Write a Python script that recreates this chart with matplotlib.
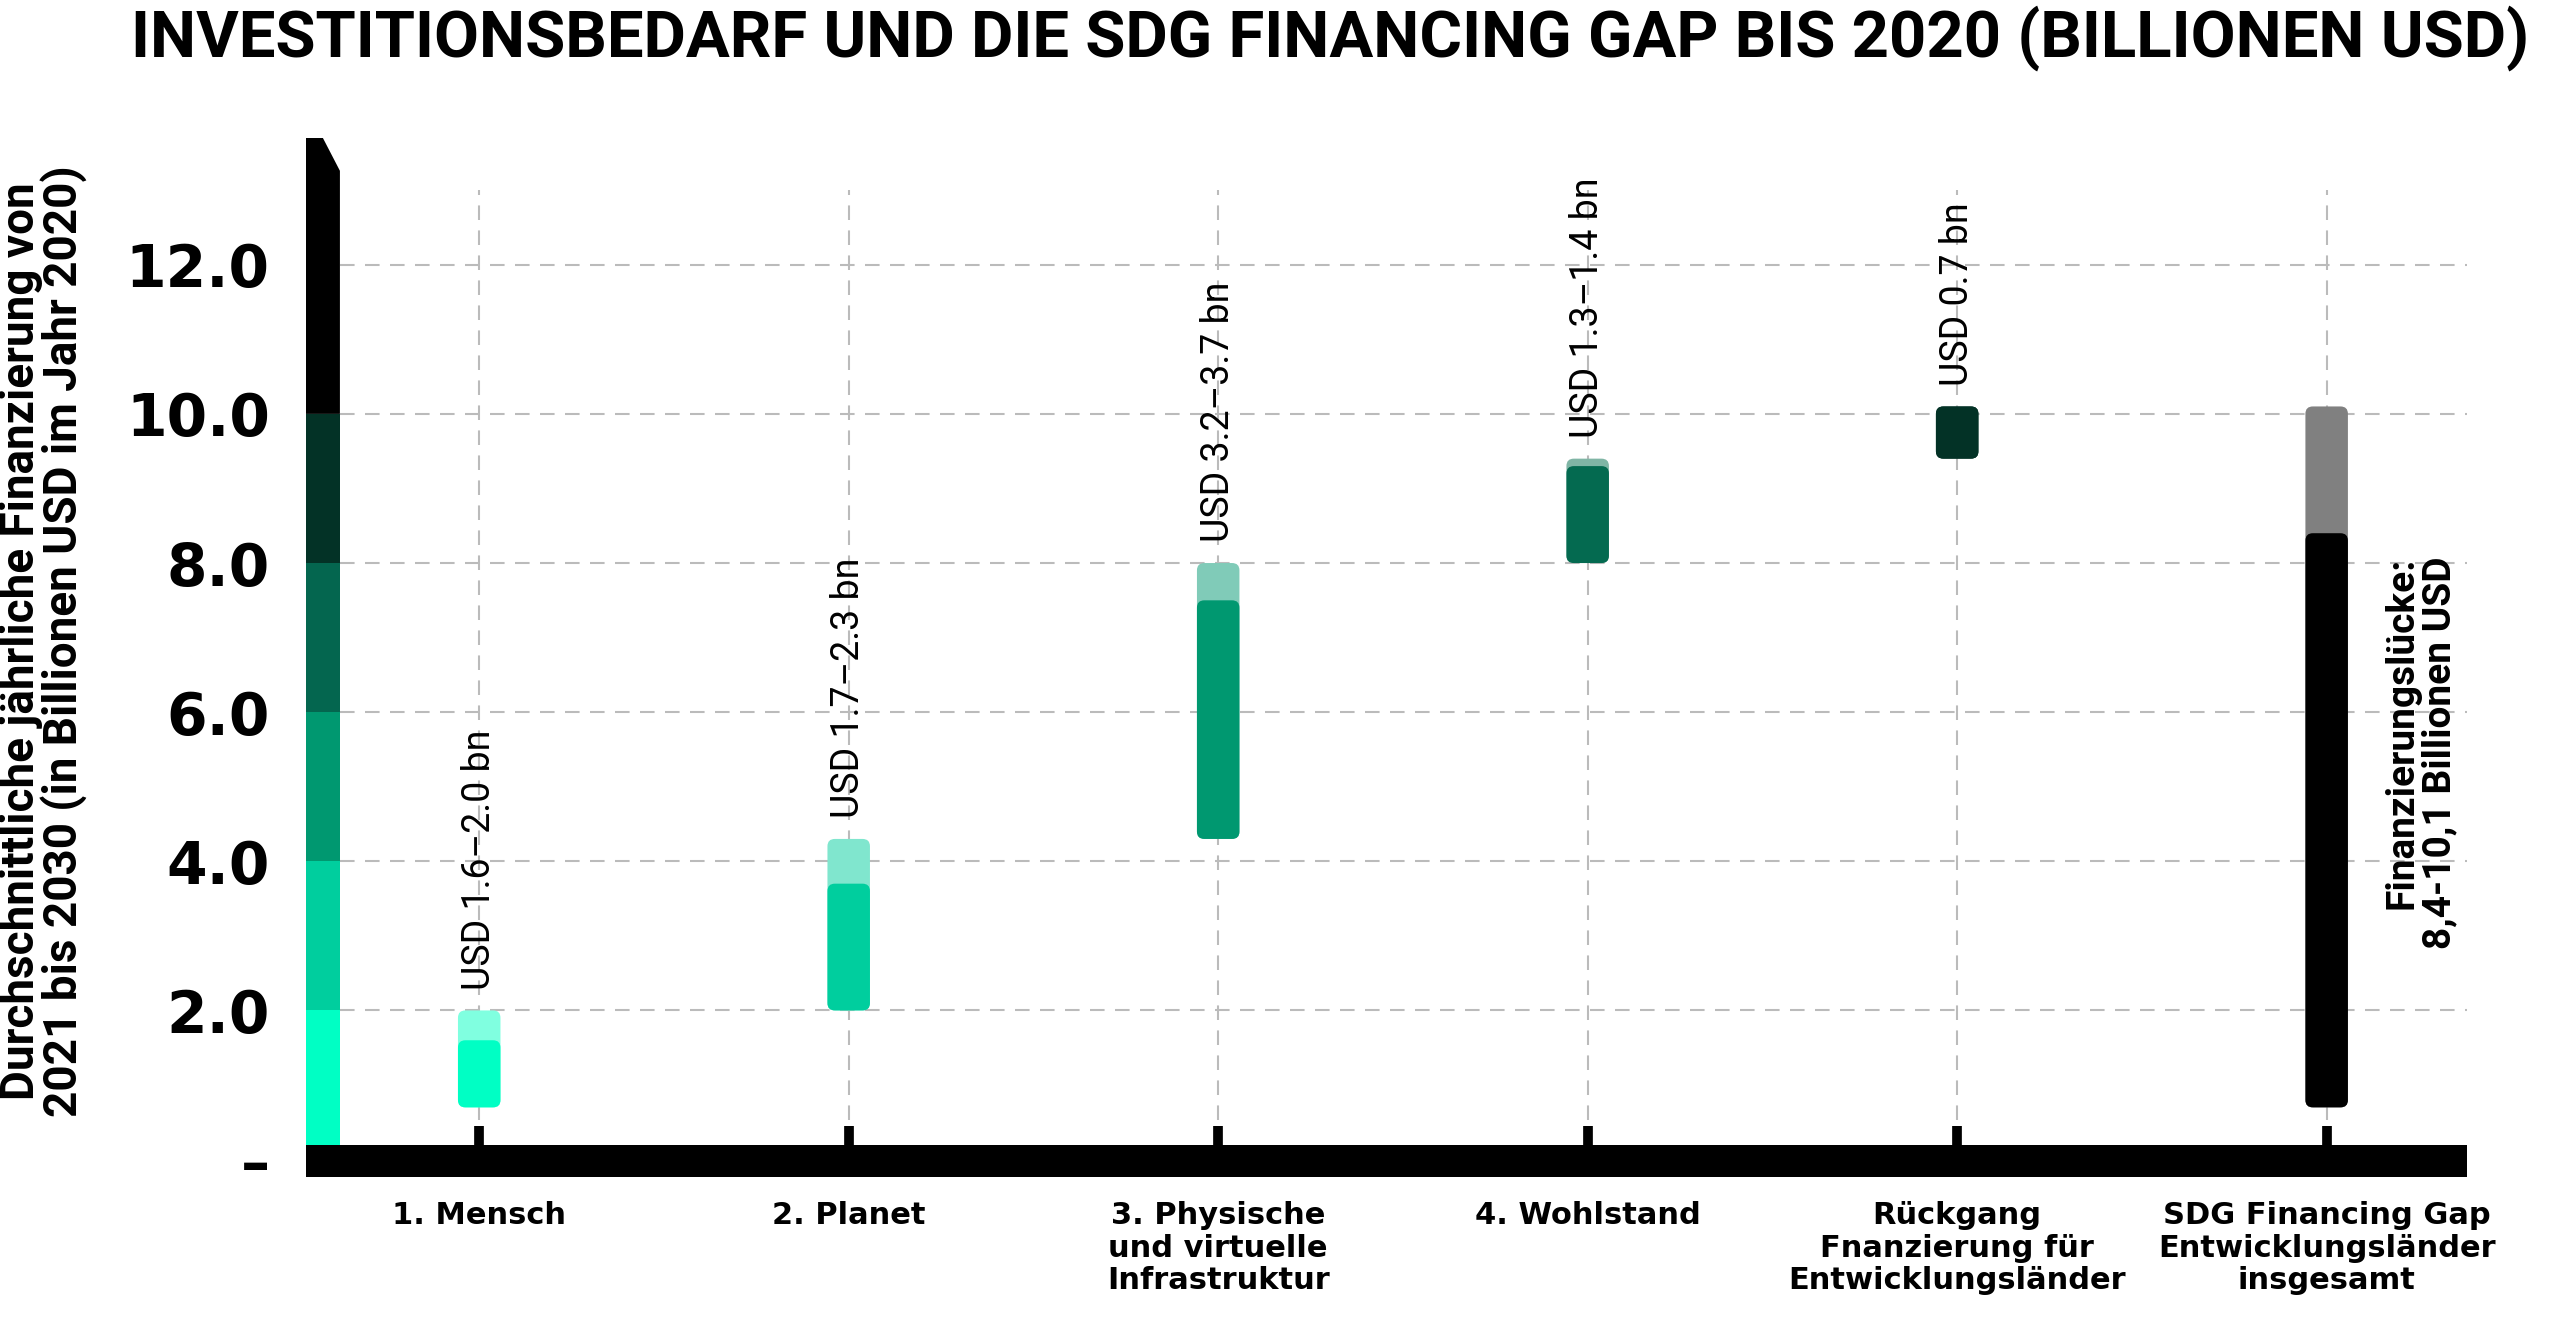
import matplotlib
matplotlib.use("Agg")
import matplotlib.pyplot as plt
from matplotlib.patches import FancyBboxPatch, Polygon, Rectangle

# data
categories = ["1. Mensch", "2. Planet", "3. Physische\nund virtuelle\nInfrastruktur",
              "4. Wohlstand", "Rückgang\nFnanzierung für\nEntwicklungsländer",
              "SDG Financing Gap\nEntwicklungsländer\ninsgesamt"]
bar_low = [0.7, 2.0, 4.3, 8.0, 9.4, 0.7]
bar_split = [1.6, 3.7, 7.5, 9.3, 10.1, 8.4]
bar_high = [2.0, 4.3, 8.0, 9.4, 10.1, 10.1]
value_labels = ["USD 1.6–2.0 bn", "USD 1.7–2.3 bn", "USD 3.2–3.7 bn",
                "USD 1.3–1.4 bn", "USD 0.7 bn", None]
gap_label = "Finanzierungslücke:\n8,4-10,1 Billionen USD"
gap_label_y = 5.45
yticks = [0, 2, 4, 6, 8, 10, 12]
ytick_labels = ["–", "2.0", "4.0", "6.0", "8.0", "10.0", "12.0"]
scale_bands = [0, 2, 4, 6, 8, 10, 13.7]

main_colors = ["#00FFC4", "#00CE9E", "#009870", "#046A50", "#033226", "#000000"]
light_colors = ["#80FFE0", "#80E6CE", "#80CBB8", "#80B5A5", "#033226", "#808080"]
band_colors = ["#00FFC4", "#00CE9E", "#009870", "#04664F", "#033226", "#000000"]

title = "INVESTITIONSBEDARF UND DIE SDG FINANCING GAP BIS 2020 (BILLIONEN USD)"
ylabel = "Durchschnittliche jährliche Finanzierung von\n2021 bis 2030 (in Billionen USD im Jahr 2020)"

fig = plt.figure(figsize=(25.6, 13.39), dpi=100)
ax = fig.add_axes([0.1195, 0.1173, 0.8442, 0.7852])
xmin, xmax = -0.469, 5.38
ax.set_xlim(xmin, xmax)
ax.set_ylim(-0.3, 13.8)
for s in ax.spines.values():
    s.set_visible(False)

grid_kw = dict(color="#BBBBBB", lw=1.5, linestyle=(0, (7, 5)), zorder=1)
axis_w = 0.092
ax.hlines(yticks[1:], xmin + axis_w, xmax, **grid_kw)
x = list(range(len(categories)))
ax.vlines(x, 0.2, 13.0, **grid_kw)

# y axis colour scale with chamfered top
for i in range(len(scale_bands) - 1):
    lo, hi = scale_bands[i], scale_bands[i + 1]
    if i == 0:
        lo = -0.2
    if i == len(scale_bands) - 2:
        pts = [(xmin, lo), (xmin + axis_w, lo), (xmin + axis_w, hi - 0.44),
               (xmin + axis_w / 2, hi), (xmin, hi)]
    else:
        pts = [(xmin, lo), (xmin + axis_w, lo), (xmin + axis_w, hi), (xmin, hi)]
    ax.add_patch(Polygon(pts, closed=True, color=band_colors[i], lw=0, zorder=3))

# bottom bar and tick stubs
ax.add_patch(Rectangle((xmin, -0.24), xmax - xmin, 0.44, color="black", lw=0, zorder=4))
ax.vlines(x, 0.2, 0.45, color="black", lw=7, zorder=4)

# range bars
bw = 0.115
r = 0.02
asp = 4.9
for i in x:
    full = FancyBboxPatch((i - bw / 2, bar_low[i]), bw, bar_high[i] - bar_low[i],
                          boxstyle=f"round,pad=0,rounding_size={r}",
                          mutation_aspect=asp, fc=light_colors[i], ec="none", zorder=5)
    ax.add_patch(full)
    lower = FancyBboxPatch((i - bw / 2, bar_low[i]), bw, bar_split[i] - bar_low[i],
                           boxstyle=f"round,pad=0,rounding_size={r}",
                           mutation_aspect=asp, fc=main_colors[i], ec="none", zorder=6)
    ax.add_patch(lower)
    if value_labels[i]:
        ax.text(i, bar_high[i] + 0.28, value_labels[i], rotation=90, ha="center",
                va="bottom", fontsize=27, family=["Roboto", "DejaVu Sans"], zorder=7)

ax.text(5.255, gap_label_y, gap_label, rotation=90, ha="center", va="center",
        multialignment="right", fontsize=28, fontweight="bold",
        family=["Roboto", "DejaVu Sans"], linespacing=1.0)

ax.set_yticks(yticks)
ax.set_yticklabels(ytick_labels, fontsize=42, fontweight="bold")
ax.set_xticks(x)
ax.set_xticklabels(categories, fontsize=22, fontweight="bold", linespacing=1.15)
ax.tick_params(axis="y", length=0, pad=26)
ax.tick_params(axis="x", length=0, pad=14)

fig.text(0.051, 0.9574, title, ha="left", va="baseline", fontsize=47,
         fontweight="bold", family=["Roboto", "DejaVu Sans"])
fig.text(0.017, 0.521, ylabel, rotation=90, ha="center", va="center",
         multialignment="center", fontsize=33, fontweight="bold",
         family=["Roboto", "DejaVu Sans"], linespacing=0.95)

fig.savefig("out.png", dpi=100, facecolor="white")
